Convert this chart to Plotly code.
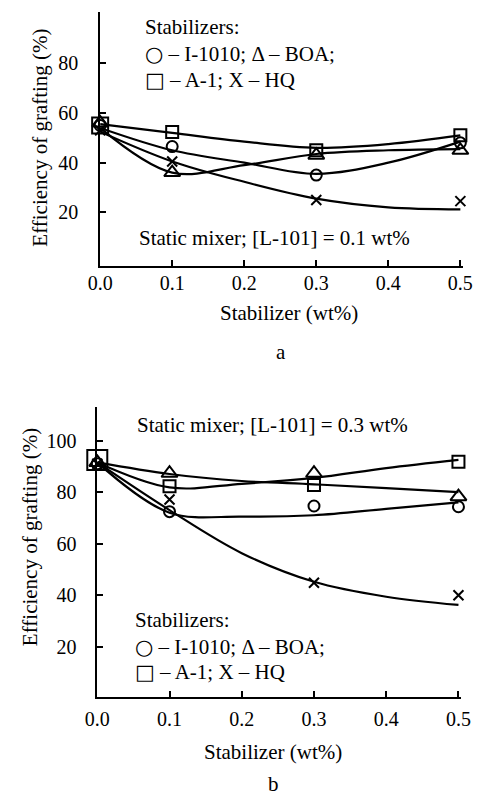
import plotly.graph_objects as go

W, H = 483, 797

# ---------------- data ----------------
x_pts = [0.0, 0.1, 0.3, 0.5]
x_fit = [0.0, 0.1, 0.2, 0.3, 0.4, 0.5]

# Panel a: [L-101] = 0.1 wt%
a_i1010 = [55, 46.5, 35, 48]
a_boa = [56, 36, 43, 45]
a_a1 = [55, 52.4, 45, 51]
a_hq = [53, 40.5, 25, 24.5]

a_fit_i1010 = [54, 45, 40, 35.5, 40, 48.5]
a_fit_boa = [54, 36, 39, 43.5, 45, 45.5]
a_fit_a1 = [55.5, 52, 48.5, 46, 47.5, 51]
a_fit_hq = [52.5, 40.5, 32.3, 25.5, 22, 21.2]

# Panel b: [L-101] = 0.3 wt%
b_i1010 = [91, 72.4, 74.6, 74.3]
b_boa = [91.5, 87.3, 87.3, 78.2]
b_a1 = [92.4, 82.3, 82.7, 91.8]
b_hq = [91, 77.1, 44.8, 40]

b_fit_i1010 = [91.5, 72, 70.5, 71, 73.5, 76]
b_fit_boa = [91.5, 87, 84.3, 83, 81.5, 80]
b_fit_a1 = [91.5, 81.8, 83.2, 85.5, 89.3, 92.5]
b_fit_hq = [91.5, 73, 56.3, 45.2, 39.4, 36.2]

x_ticks = [0.0, 0.1, 0.2, 0.3, 0.4, 0.5]
x_ticklabels = ["0.0", "0.1", "0.2", "0.3", "0.4", "0.5"]
a_yticks = [20, 40, 60, 80]
b_yticks = [20, 40, 60, 80, 100]

# ---------------- styling ----------------
FONT = "Liberation Serif, Times New Roman, serif"
BLACK = "black"

def px_x(x):
    return x / W

def px_y(y):
    return 1 - y / H

fig = go.Figure()

def add_panel(xa, ya, fits, pts, first_sq):
    for fy in fits:
        fig.add_trace(go.Scatter(
            x=x_fit, y=fy, mode="lines", xaxis=xa, yaxis=ya,
            line=dict(color=BLACK, width=2.2, shape="spline", smoothing=1.0),
            cliponaxis=False, hoverinfo="skip"))
    symbols = [("circle-open", 11, None), ("triangle-up-open", 14, None),
               ("square-open", 12, first_sq), ("x-thin-open", 10, None)]
    for (sym, sz, sz0), py in zip(symbols, pts):
        size = [sz0 if (sz0 and i == 0) else sz for i in range(len(py))]
        fig.add_trace(go.Scatter(
            x=x_pts, y=py, mode="markers", xaxis=xa, yaxis=ya,
            marker=dict(symbol=sym, size=size, color=BLACK, opacity=1,
                        line=dict(color=BLACK, width=2)),
            cliponaxis=False))

add_panel("x", "y",
          [a_fit_i1010, a_fit_boa, a_fit_a1, a_fit_hq],
          [a_i1010, a_boa, a_a1, a_hq], 16)
add_panel("x2", "y2",
          [b_fit_i1010, b_fit_boa, b_fit_a1, b_fit_hq],
          [b_i1010, b_boa, b_a1, b_hq], 20)

axis_common = dict(showgrid=False, zeroline=False, showline=True,
                   linecolor=BLACK, linewidth=1.8, ticks="inside",
                   ticklen=6, tickwidth=1.6, tickcolor=BLACK,
                   tickfont=dict(family=FONT, size=20, color=BLACK))

fig.update_layout(
    width=W, height=H, autosize=False,
    margin=dict(l=0, r=0, t=0, b=0),
    paper_bgcolor="white", plot_bgcolor="white",
    showlegend=False,
    xaxis=dict(domain=[px_x(91.5), px_x(472)], range=[0, 0.503],
               anchor="y", tickvals=x_ticks, ticktext=x_ticklabels,
               ticklabelstandoff=-2, **axis_common),
    yaxis=dict(domain=[px_y(265.7), px_y(12)], range=[-1.5, 100.7],
               anchor="x", tickvals=a_yticks, ticklabelstandoff=16,
               **axis_common),
    xaxis2=dict(domain=[px_x(88.5), px_x(470)], range=[0, 0.503],
                anchor="y2", tickvals=x_ticks, ticktext=x_ticklabels,
                ticklabelstandoff=3, **axis_common),
    yaxis2=dict(domain=[px_y(697), px_y(407)], range=[0.5, 113],
                anchor="x2", tickvals=b_yticks, ticklabelstandoff=15,
                **axis_common),
)

def txt(text, x, y, xanchor="left", size=21, angle=0):
    fig.add_annotation(text=text, x=px_x(x), y=px_y(y), xref="paper",
                       yref="paper", xanchor=xanchor, yanchor="middle",
                       showarrow=False, textangle=angle,
                       font=dict(family=FONT, size=size, color=BLACK))

CIRC = '<span style="font-family:DejaVu Sans">○</span>'
SQ = '<span style="font-family:DejaVu Sans">□</span>'
LEG1 = CIRC + " – I-1010; Δ – BOA;"
LEG2 = SQ + " – A-1; X – HQ"

# panel a texts
txt("Stabilizers:", 137, 27)
txt(LEG1, 137, 54)
txt(LEG2, 137, 80)
txt("Static mixer; [L-101] = 0.1 wt%", 130, 238)
txt("Stabilizer (wt%)", 290, 313, xanchor="center")
txt("a", 281, 352, xanchor="center")
txt("Efficiency of grafting (%)", 28, 138, xanchor="center", angle=-90)

# panel b texts
txt("Static mixer; [L-101] = 0.3 wt%", 128, 425)
txt("Stabilizers:", 126, 620)
txt(LEG1, 126, 647)
txt(LEG2, 126, 672)
txt("Stabilizer (wt%)", 273, 752, xanchor="center")
txt("b", 273, 784, xanchor="center")
txt("Efficiency of grafting (%)", 18, 537, xanchor="center", angle=-90)

fig.write_html("out.html")
